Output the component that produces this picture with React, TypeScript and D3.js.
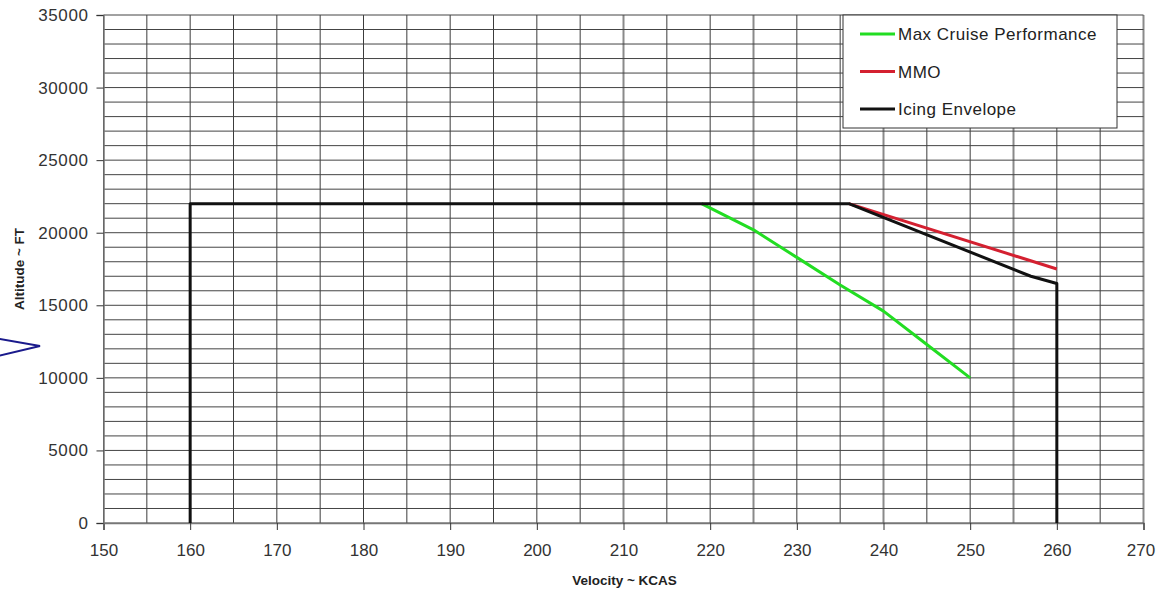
import React, { useEffect, useRef } from 'react';
import * as d3 from 'd3';

// velocity (KCAS) / altitude (FT) points
const icingVel = [160, 160, 236, 257, 260, 260];
const icingAlt = [0, 22000, 22000, 17000, 16500, 0];

const mmoVel = [236, 260];
const mmoAlt = [22000, 17500];

const cruiseVel = [219, 225, 230, 235, 240, 245, 250];
const cruiseAlt = [22000, 20200, 18300, 16400, 14600, 12300, 10000];

const xTicks = [150, 160, 170, 180, 190, 200, 210, 220, 230, 240, 250, 260, 270];
const yTicks = [0, 5000, 10000, 15000, 20000, 25000, 30000, 35000];

const seriesNames = ['Max Cruise Performance', 'MMO', 'Icing Envelope'];
const seriesColors = ['#22dd22', '#d42030', '#111111'];

const width = 1157;
const height = 591;

const App = () => {
    const svgRef = useRef<SVGSVGElement>(null);

    useEffect(() => {
        const svg = d3.select(svgRef.current);
        svg.selectAll('*').remove();

        const margin = { top: 15, right: 13.5, bottom: 68, left: 103.5 };
        const innerWidth = width - margin.left - margin.right;
        const innerHeight = height - margin.top - margin.bottom;

        const x = d3.scaleLinear().domain([150, 270]).range([0, innerWidth]);
        const y = d3.scaleLinear().domain([0, 35000]).range([innerHeight, 0]);

        const g = svg.append('g')
            .attr('transform', `translate(${margin.left},${margin.top})`);

        // grid: every 5 knots, every 1000 ft
        const softLine = (d: number) => d >= 210 && (d - 210) % 15 === 0;
        g.append('g')
            .selectAll('line')
            .data(d3.range(150, 271, 5))
            .enter()
            .append('line')
            .attr('x1', d => x(d))
            .attr('x2', d => x(d))
            .attr('y1', 0)
            .attr('y2', innerHeight)
            .attr('stroke', d => softLine(d) ? '#8a8a8a' : '#3c3c3c')
            .attr('stroke-width', d => softLine(d) ? 2 : 1);

        g.append('g')
            .selectAll('line')
            .data(d3.range(0, 35001, 1000))
            .enter()
            .append('line')
            .attr('x1', 0)
            .attr('x2', innerWidth)
            .attr('y1', d => y(d))
            .attr('y2', d => y(d))
            .attr('stroke', '#444')
            .attr('stroke-width', 1);

        // axes
        const xAxis = g.append('g')
            .attr('transform', `translate(0,${innerHeight})`)
            .call(d3.axisBottom(x).tickValues(xTicks).tickSize(7).tickPadding(14).tickFormat(d3.format('d')));
        const yAxis = g.append('g')
            .call(d3.axisLeft(y).tickValues(yTicks).tickSize(7).tickPadding(8).tickFormat(d3.format('d')));

        [xAxis, yAxis].forEach(a => {
            a.select('.domain').attr('stroke', '#777').attr('stroke-width', 1.5);
            a.selectAll('.tick line').attr('stroke', '#333');
            a.selectAll('text')
                .attr('fill', '#333')
                .style('font-family', 'Liberation Sans, Arial, sans-serif')
                .style('font-size', '17px');
        });
        yAxis.selectAll('text').style('letter-spacing', '0.6px');
        // last x label sits at the right edge, as in the original
        xAxis.selectAll('.tick text').filter(d => d === 270).attr('dx', -3);

        // lines
        const line = d3.line<[number, number]>()
            .x(d => x(d[0]))
            .y(d => y(d[1]));

        const series = [
            cruiseVel.map((v, i) => [v, cruiseAlt[i]] as [number, number]),
            mmoVel.map((v, i) => [v, mmoAlt[i]] as [number, number]),
            icingVel.map((v, i) => [v, icingAlt[i]] as [number, number]),
        ];

        [1, 0, 2].forEach(i => {
            g.append('path')
                .datum(series[i])
                .attr('fill', 'none')
                .attr('stroke', seriesColors[i])
                .attr('stroke-width', 3)
                .attr('stroke-linejoin', 'round')
                .attr('d', line);
        });

        // legend
        const legend = svg.append('g').attr('transform', 'translate(843,15)');
        legend.append('rect')
            .attr('width', 274)
            .attr('height', 113)
            .attr('fill', '#fff')
            .attr('stroke', '#333')
            .attr('stroke-width', 1);

        seriesNames.forEach((name, i) => {
            const ly = 19 + i * 37.5;
            legend.append('line')
                .attr('x1', 17).attr('x2', 52)
                .attr('y1', ly).attr('y2', ly)
                .attr('stroke', seriesColors[i])
                .attr('stroke-width', 3);
            legend.append('text')
                .attr('x', 55)
                .attr('y', ly + 6)
                .attr('fill', '#222')
                .style('font-family', 'Liberation Sans, Arial, sans-serif')
                .style('font-size', '17px')
                .style('letter-spacing', '0.5px')
                .text(name);
        });

        // axis titles
        svg.append('text')
            .attr('x', margin.left + innerWidth / 2 + 1)
            .attr('y', 585)
            .attr('text-anchor', 'middle')
            .attr('fill', '#222')
            .style('font-family', 'Liberation Sans, Arial, sans-serif')
            .style('font-weight', 'bold')
            .style('font-size', '13.5px')
            .text('Velocity ~ KCAS');

        svg.append('text')
            .attr('transform', `translate(24,${margin.top + innerHeight / 2}) rotate(-90)`)
            .attr('text-anchor', 'middle')
            .attr('fill', '#222')
            .style('font-family', 'Liberation Sans, Arial, sans-serif')
            .style('font-weight', 'bold')
            .style('font-size', '13.5px')
            .text('Altitude ~ FT');

        // blue pointer on the left edge
        svg.append('polyline')
            .attr('points', '-6,338 40,346 -6,357')
            .attr('fill', 'none')
            .attr('stroke', '#1a1a8c')
            .attr('stroke-width', 2);
    }, []);

    return (
        <div style={{ position: 'absolute', left: 0, top: 0 }}>
            <svg ref={svgRef} width={width} height={height} style={{ display: 'block', background: '#fff' }}></svg>
        </div>
    );
};

export default App;
